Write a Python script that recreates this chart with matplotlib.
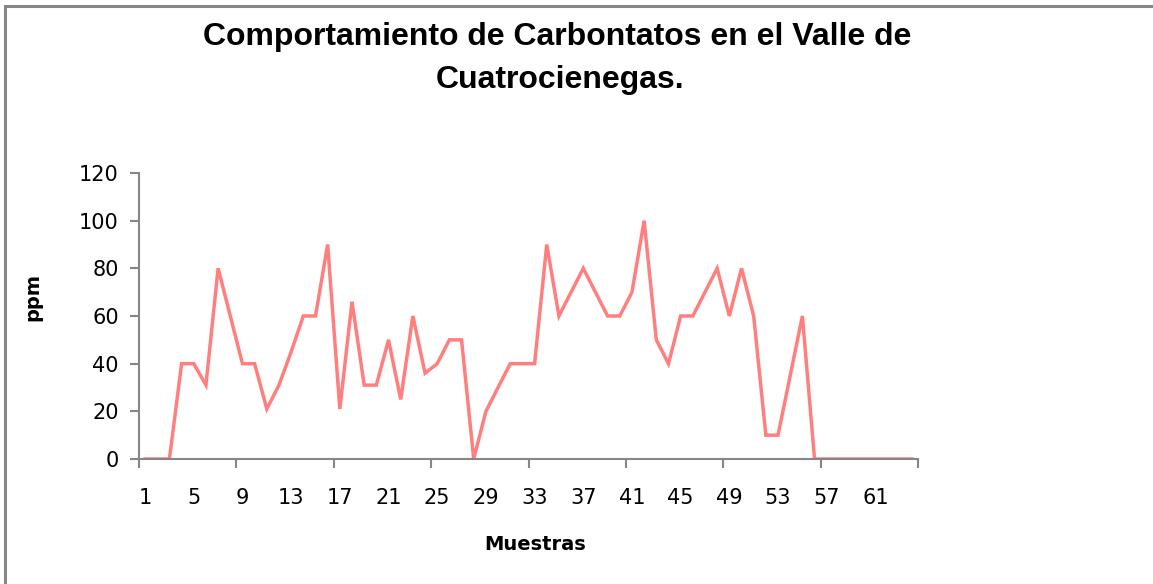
import numpy as np
import matplotlib.pyplot as plt
from matplotlib.patches import Rectangle

# carbonatos (ppm) por muestra
muestras = list(range(1, 65))
ppm = [0, 0, 0, 40, 40, 31, 80, 60, 40, 40,
       21, 31, 45, 60, 60, 90, 21, 66, 31, 31,
       50, 25, 60, 36, 40, 50, 50, 0, 20, 30,
       40, 40, 40, 90, 60, 70, 80, 70, 60, 60,
       70, 100, 50, 40, 60, 60, 70, 80, 60, 80,
       60, 10, 10, 35, 60, 0, 0, 0, 0, 0,
       0, 0, 0, 0]
etiquetas = list(range(1, 65, 4))

gris = '#868686'

fig = plt.figure(figsize=(11.53, 5.84), dpi=100)
ax = fig.add_axes([139/1153, 125/584, 779/1153, 286/584])

ax.plot(muestras, ppm, color='#ff7f7f', lw=2.5, solid_joinstyle='miter')

ax.set_xlim(0.5, 64.5)
ax.set_ylim(0, 120)
ax.set_yticks(range(0, 121, 20))
ax.set_xticks(np.arange(0.5, 65, 8))
ax.set_xticklabels([])
ax.set_xticks(etiquetas, minor=True)
ax.set_xticklabels([str(e) for e in etiquetas], minor=True)

for s in ['top', 'right']:
    ax.spines[s].set_visible(False)
for s in ['left', 'bottom']:
    ax.spines[s].set_color(gris)
    ax.spines[s].set_linewidth(1.5)

ax.tick_params(axis='both', which='major', direction='out', length=6.5, width=1.5, color=gris)
ax.tick_params(axis='x', which='minor', length=0, pad=21)
ax.tick_params(axis='y', which='major', pad=8)
for lab in ax.get_xticklabels(minor=True) + ax.get_yticklabels():
    lab.set_fontsize(15)
    lab.set_family('DejaVu Sans')

fig.text(557/1153, 1 - 37/584, 'Comportamiento de Carbontatos en el Valle de',
         ha='center', va='center', fontsize=23, fontweight='bold', family='Liberation Sans')
fig.text(560/1153, 1 - 80/584, 'Cuatrocienegas.',
         ha='center', va='center', fontsize=23, fontweight='bold', family='Liberation Sans')
fig.text(33/1153, 1 - 297/584, 'ppm', rotation=90, ha='center', va='center',
         fontsize=14, fontweight='bold', family='DejaVu Sans')
fig.text(535/1153, 1 - 544/584, 'Muestras', ha='center', va='center',
         fontsize=14, fontweight='bold', family='DejaVu Sans')

# borde del area del grafico
fig.patches.append(Rectangle((5/1153, -0.1), 1.2, 1 - 6/584 + 0.1, transform=fig.transFigure,
                             fill=False, edgecolor=gris, lw=2.2))

fig.savefig('out.png', dpi=100)
